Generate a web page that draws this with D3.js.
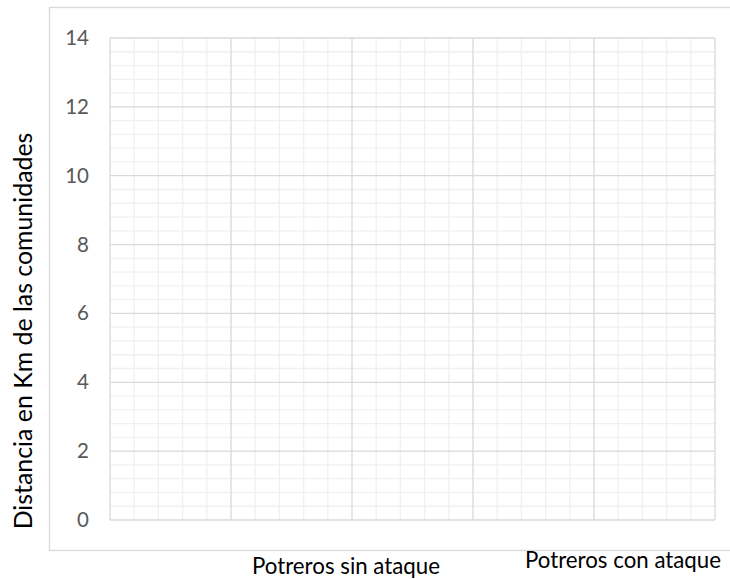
<!DOCTYPE html>
<html>
<head>
<meta charset="utf-8">
<script src="https://cdn.jsdelivr.net/npm/d3@7"></script>
<style>
  html, body { margin: 0; padding: 0; background: #fff; }
  svg { display: block; }
</style>
</head>
<body>
<svg id="chart" width="730" height="579"></svg>
<script>
// ---- data (the reference chart plots no marks: empty axes with gridlines) ----
const yDomain = [0, 14];
const yMajorTicks = [0, 2, 4, 6, 8, 10, 12, 14];
const yMinorStep = 0.4;
const xDomain = [0, 5];
const xMajorTicks = [0, 1, 2, 3, 4, 5];
const xMinorStep = 0.2;
const categoryLabels = ["Potreros sin ataque", "Potreros con ataque"];
const yAxisTitle = "Distancia en Km de las comunidades";

// ---- layout ----
const FONT = "Lato, 'Open Sans', sans-serif";
const svg = d3.select("#chart");
const plot = { left: 110, top: 38, right: 715, bottom: 520 };

const x = d3.scaleLinear().domain(xDomain).range([plot.left, plot.right]);
const y = d3.scaleLinear().domain(yDomain).range([plot.bottom, plot.top]);

function fit(sel, target) {
  sel.each(function () {
    const el = this;
    const fs = parseFloat(el.getAttribute("font-size"));
    const w = el.getComputedTextLength();
    if (w > 0) el.setAttribute("font-size", (fs * target / w).toFixed(2));
  });
}

// chart frame
svg.append("rect")
  .attr("x", 49.5).attr("y", 7.5)
  .attr("width", 700).attr("height", 543)
  .attr("fill", "none").attr("stroke", "#d9d9d9").attr("stroke-width", 1.3);

const yMinor = d3.range(yDomain[0], yDomain[1] + 1e-9, yMinorStep)
  .filter(v => !yMajorTicks.some(t => Math.abs(t - v) < 1e-6));
const xMinor = d3.range(xDomain[0], xDomain[1] + 1e-9, xMinorStep)
  .filter(v => !xMajorTicks.some(t => Math.abs(t - v) < 1e-6));

const g = svg.append("g");
g.selectAll("line.ymin").data(yMinor).join("line")
  .attr("x1", plot.left).attr("x2", plot.right)
  .attr("y1", d => y(d)).attr("y2", d => y(d))
  .attr("stroke", "#f0f0f0").attr("stroke-width", 1.3);
g.selectAll("line.xmin").data(xMinor).join("line")
  .attr("y1", plot.top).attr("y2", plot.bottom)
  .attr("x1", d => x(d)).attr("x2", d => x(d))
  .attr("stroke", "#f0f0f0").attr("stroke-width", 1.3);
g.selectAll("line.ymaj").data(yMajorTicks).join("line")
  .attr("x1", plot.left).attr("x2", plot.right)
  .attr("y1", d => y(d)).attr("y2", d => y(d))
  .attr("stroke", "#d9d9d9").attr("stroke-width", 1.3);
g.selectAll("line.xmaj").data(xMajorTicks).join("line")
  .attr("y1", plot.top).attr("y2", plot.bottom)
  .attr("x1", d => x(d)).attr("x2", d => x(d))
  .attr("stroke", "#d9d9d9").attr("stroke-width", 1.3);

// y axis tick labels
const yAxis = d3.axisLeft(y).tickValues(yMajorTicks).tickSize(0).tickPadding(21);
const ya = svg.append("g").attr("transform", `translate(${plot.left},0)`).call(yAxis);
ya.select(".domain").remove();
ya.selectAll("text")
  .attr("font-family", FONT)
  .attr("font-size", 20.5)
  .attr("fill", "#595959");

// y axis title
const yt = svg.append("text")
  .attr("transform", "translate(32,331) rotate(-90)")
  .attr("text-anchor", "middle")
  .attr("font-family", FONT)
  .attr("font-size", 20)
  .attr("fill", "#000")
  .text(yAxisTitle);
fit(yt, 397);

// category labels below the frame
const labelPos = [{ cx: 346, by: 574, w: 188 }, { cx: 623, by: 567.5, w: 199 }];
const cats = svg.selectAll("text.cat").data(categoryLabels).join("text")
  .attr("class", "cat")
  .attr("x", (d, i) => labelPos[i].cx)
  .attr("y", (d, i) => labelPos[i].by)
  .attr("text-anchor", "middle")
  .attr("font-family", FONT)
  .attr("font-size", 18)
  .attr("fill", "#000")
  .text(d => d);
const c0 = cats.nodes()[0];
const fsCat = 18 * labelPos[0].w / c0.getComputedTextLength();
cats.attr("font-size", fsCat.toFixed(2));
</script>
</body>
</html>
